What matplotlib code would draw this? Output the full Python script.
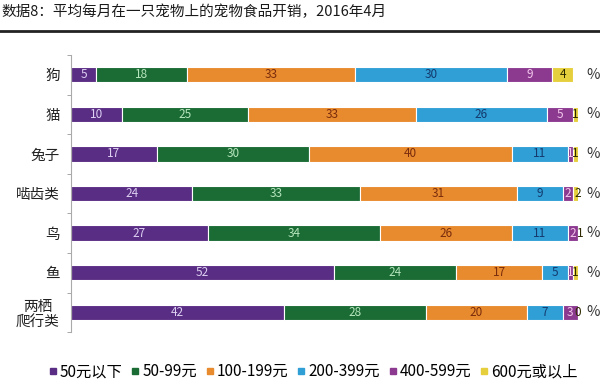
import matplotlib
matplotlib.use("Agg")
import matplotlib.pyplot as plt
from matplotlib.lines import Line2D
from matplotlib.transforms import blended_transform_factory
import numpy as np

plt.rcParams['font.family'] = ['Noto Sans CJK SC', 'DejaVu Sans']

# data
pets = ['狗', '猫', '兔子', '啮齿类', '鸟', '鱼', '两栖\n爬行类']
ranges = ['50元以下', '50-99元', '100-199元', '200-399元', '400-599元', '600元或以上']
under50 = [5, 10, 17, 24, 27, 52, 42]
r50_99 = [18, 25, 30, 33, 34, 24, 28]
r100_199 = [33, 33, 40, 31, 26, 17, 20]
r200_399 = [30, 26, 11, 9, 11, 5, 7]
r400_599 = [9, 5, 1, 2, 2, 1, 3]
over600 = [4, 1, 1, 2, 1, 1, 0]

series = [under50, r50_99, r100_199, r200_399, r400_599, over600]
colors = ['#5a2d84', '#1b6b35', '#e88a2e', '#2f9fd6', '#8c3a90', '#e6cf3c']
txt_colors = ['#ddd0f2', '#b6e6bd', '#7a2c0c', '#143a6e', '#f4c8ec', '#2e2a00']

fig = plt.figure(figsize=(6, 3.84), dpi=100)
ax = fig.add_axes([0.118, 0.135, 0.845, 0.722])

y = np.arange(len(pets))
left = np.zeros(len(pets))
for vals, c, tc in zip(series, colors, txt_colors):
    vals = np.array(vals, dtype=float)
    ax.barh(y, vals, left=left, height=0.39, color=c, edgecolor='white', linewidth=0.8)
    for yi, (l, v) in enumerate(zip(left, vals)):
        ax.text(l + v / 2, yi, str(int(v)), ha='center', va='center',
                fontsize=8.5, color=tc)
    left += vals

ax.set_xlim(0, 100)
ax.set_ylim(6.5, -0.5)
ax.set_yticks(y)
ax.set_yticklabels(pets, fontsize=10.5, multialignment='center', color='#222222')
ax.set_yticks(np.arange(-0.5, 7, 1), minor=True)
ax.tick_params(axis='y', which='major', length=0, pad=8)
ax.tick_params(axis='y', which='minor', length=3, color='#999999')
ax.set_xticks([])
for s in ['top', 'right', 'bottom']:
    ax.spines[s].set_visible(False)
ax.spines['left'].set_color('#aaaaaa')

# percent markers at right
pct_tr = blended_transform_factory(fig.transFigure, ax.transData)
for yi in y:
    ax.text(0.988, yi, '%', transform=pct_tr, ha='center', va='center',
            fontsize=10.5, color='#333333')

# title and rule
fig.text(0.003, 0.968, '数据8：平均每月在一只宠物上的宠物食品开销，2016年4月',
         fontsize=10.5, ha='left', va='center', color='#1a1a1a')
fig.add_artist(Line2D([0, 1], [1 - 31 / 384, 1 - 31 / 384], transform=fig.transFigure,
                      color='#222222', linewidth=2))

handles = [Line2D([], [], marker='s', linestyle='', color=c, markersize=4.5) for c in colors]
fig.legend(handles, ranges, loc='center', bbox_to_anchor=(0.52, 0.032), ncol=6,
           frameon=False, fontsize=11, handletextpad=0.05, columnspacing=0.45,
           handlelength=0.8)

fig.savefig('out.png', dpi=100)
